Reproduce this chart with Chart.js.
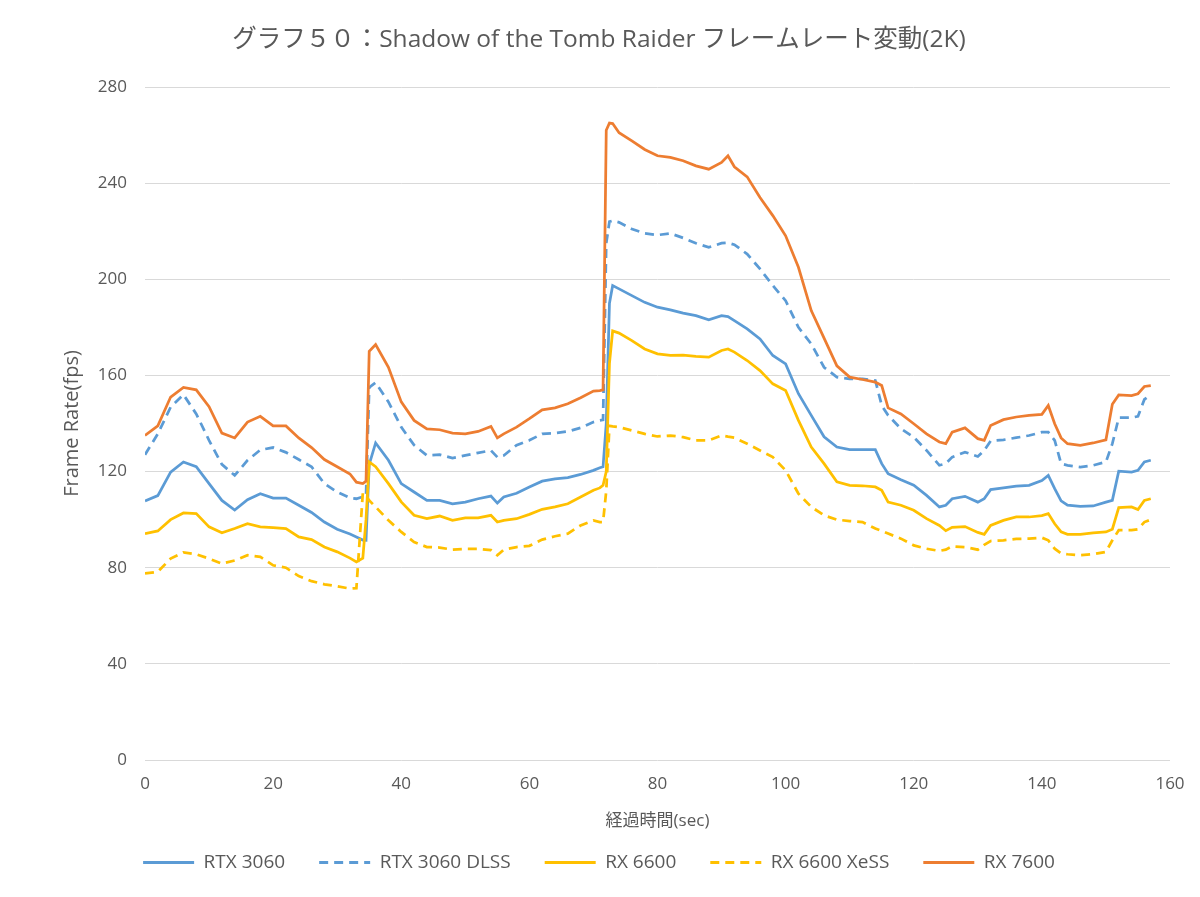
<!DOCTYPE html>
<html lang="ja">
<head>
<meta charset="utf-8">
<title>Shadow of the Tomb Raider フレームレート変動</title>
<script src="https://cdn.jsdelivr.net/npm/chart.js@4.4.1/dist/chart.umd.min.js"></script>
<style>
  html, body { margin: 0; padding: 0; background: #fff; }
  #wrap { width: 1200px; height: 897px; }
</style>
</head>
<body>
<div id="wrap"><canvas id="chart" width="1200" height="897"></canvas></div>
<script>
// elapsed time (sec)
const timeSec = [
  0,2,4,6,8,10,12,14,16,18,20,22,24,26,28,30,32,
  33,34,34.5,35,36,
  38,40,42,44,46,48,50,52,54,55,56,58,60,62,64,66,68,70,
  71,71.5,72,72.5,73,74,
  76,78,80,82,84,86,88,90,91,
  92,94,96,98,100,102,104,106,108,110,112,114,115,
  116,118,120,122,124,125,126,128,130,131,
  132,134,136,138,140,141,142,143,144,146,148,150,151,152,154,155,156,157
];

const rtx3060 = [
  107.8,110,119.8,124,122,115,108,104,108.3,110.8,109,109,106,103,99,96,94,
  92.8,91.5,91.4,123,131.9,
  124.7,115,111.5,108,108,106.6,107.3,108.7,109.8,106.9,109.4,111,113.6,116,117,117.5,118.8,120.5,
  121.6,122,140,190,197.4,196,
  193.2,190.4,188.4,187.3,185.9,184.9,183.1,184.9,184.5,
  182.8,179.4,175.2,168.3,164.8,152.4,143.4,134.5,130.2,129.1,129.1,129.1,123.3,
  119.1,116.6,114.3,110.1,105.3,106,108.7,109.7,107.3,108.7,
  112.5,113.2,113.9,114.3,116.3,118.4,112.9,107.8,106,105.5,105.7,107.3,108,120.2,119.8,120.5,124,124.7
];

const rtx3060Dlss = [
  127,135.7,146.8,152,144,133,123,118.4,124.7,129,130,128,125,122,115,111.5,109,
  108.7,109.5,110,155,157,
  149,138.5,131,126.7,127,125.6,126.7,127.8,128.8,126,126.7,131,133,135.7,136,136.7,138.2,140.6,
  141.3,141.5,215,224,224.4,223.7,
  220.9,219.1,218.4,219.1,217.2,215,213.3,215,215.2,
  214.4,210.5,204.3,197.4,191.1,180,173.1,163.4,159.3,158.6,158.6,157.9,147.5,
  143.4,137.8,134.3,128.8,122.6,123.3,126,128.1,126.3,128.8,
  132.7,133.2,134.1,135,136.4,136.4,133,123.3,122.6,121.9,122.6,124,131.6,142.4,142.4,143,150,152
];

const rx6600 = [
  94.2,95.3,100,102.8,102.5,97,94.5,96.3,98.3,97,96.7,96.3,92.8,91.7,88.6,86.6,84,
  82.4,84,100,124,122,
  115,107.4,101.8,100.4,101.5,99.7,100.7,100.7,101.8,99,99.7,100.4,102.2,104.3,105.3,106.6,109.4,112.2,
  113.2,114.3,120,165,178.5,177.6,
  174.5,171,169,168.3,168.4,167.9,167.6,170.4,171,
  169.7,166.2,162,156.5,153.7,141.3,130.2,123.3,115.7,114.3,114.1,113.6,112.2,
  107.3,106,103.9,100.4,97.6,95.4,96.8,97.1,94.7,93.9,
  97.6,99.7,101.1,101.1,101.7,102.5,98.3,94.9,93.9,93.9,94.5,94.9,96,105,105.3,104.2,108,108.7
];

const rx6600Xess = [
  77.6,78.3,83.8,86.4,85.6,83.8,81.7,83,85.2,84.5,81,80,76.5,74.4,73.1,72.3,71.3,
  71.5,111,110,108,105.3,
  99.7,94.9,90.7,88.6,88.4,87.5,87.8,87.8,87.3,85.2,87.5,88.6,89.1,91.7,93.1,94.2,97.6,99.7,
  99,99,112,139,138.8,138.5,
  137.1,135.7,134.6,135,134.3,133,133,135,134.5,
  134.1,131.6,128.8,126,120.5,110.8,105.3,101.8,100,99.4,99,96.3,95.3,
  94.2,92.1,89.3,87.9,87,87.5,88.9,88.6,87.5,89.5,
  91.1,91.4,92,92.1,92.5,91.4,87.9,86,85.6,85.2,85.6,86.6,91.4,95.6,95.6,96,99,100
];

const rx7600 = [
  135,139,151,155,154,147,136,134,140.6,143,139,139,134,130,125,122,119,
  115.6,115,116,170,172.8,
  163.4,149,141.3,137.8,137.4,136,135.7,136.7,138.8,134,135.7,138.5,142,145.7,146.5,148.2,150.7,153.5,
  153.7,154,262,265,264.8,261,
  257.6,254,251.4,250.7,249.3,247.2,245.8,248.6,251.4,
  246.8,242.6,234,226.5,218.1,205,187,175.5,164,159.3,158.3,157.2,155.8,
  146.5,144,139.9,135.7,132.3,131.6,136.4,138.2,133.7,133,
  139.2,141.6,142.7,143.4,143.8,147.5,139.9,134,131.6,130.9,131.9,133.2,148,151.9,151.6,152.4,155.4,155.8
];

const seriesNames = ['RTX 3060', 'RTX 3060 DLSS', 'RX 6600', 'RX 6600 XeSS', 'RX 7600'];
const seriesValues = [rtx3060, rtx3060Dlss, rx6600, rx6600Xess, rx7600];
const seriesColors = ['#5B9BD5', '#5B9BD5', '#FFC000', '#FFC000', '#ED7D31'];
const seriesDashed = [false, true, false, true, false];

const FONT = '"Open Sans", "Noto Sans CJK JP", sans-serif';
const TEXT = '#595959';

const datasets = seriesNames.map((name, i) => ({
  label: name,
  data: seriesValues[i].map((v, j) => ({ x: timeSec[j], y: v })),
  borderColor: seriesColors[i],
  backgroundColor: seriesColors[i],
  borderWidth: 2.75,
  borderDash: seriesDashed[i] ? [9, 6] : [],
  pointRadius: 0,
  tension: 0,
  fill: false,
  order: seriesNames.length - i, // later series drawn on top, like the original
}));

new Chart(document.getElementById('chart'), {
  type: 'line',
  data: { datasets },
  options: {
    responsive: false,
    animation: false,
    layout: { padding: { left: 0, right: 2, top: 0, bottom: 15 } },
    plugins: {
      title: {
        display: true,
        text: 'グラフ５０：Shadow of the Tomb Raider フレームレート変動(2K)',
        color: TEXT,
        font: { family: FONT, size: 24.5, weight: 'normal' },
        padding: { top: 25.3, bottom: 32.3 },
      },
      legend: {
        position: 'bottom',
        labels: {
          usePointStyle: true,
          pointStyle: 'line',
          pointStyleWidth: 51,
          color: TEXT,
          font: { family: FONT, size: 19 },
          padding: 34,
          sort: (a, b) => a.datasetIndex - b.datasetIndex,
          generateLabels: (chart) => {
            const items = Chart.defaults.plugins.legend.labels.generateLabels(chart);
            items.forEach((item) => {
              item.lineDash = chart.data.datasets[item.datasetIndex].borderDash;
              item.lineWidth = 3;
            });
            return items;
          },
        },
      },
      tooltip: { enabled: false },
    },
    scales: {
      x: {
        type: 'linear',
        min: 0,
        max: 160,
        ticks: { stepSize: 20, color: TEXT, font: { family: FONT, size: 17 }, padding: 14 },
        grid: { display: false, drawTicks: false },
        border: { display: false },
        title: {
          display: true,
          text: '経過時間(sec)',
          color: TEXT,
          font: { family: FONT, size: 17 },
          padding: { top: 0, bottom: -12.2 },
        },
        afterFit: (scale) => { scale.height = 59; },
      },
      y: {
        min: 0,
        max: 280,
        ticks: { stepSize: 40, color: TEXT, font: { family: FONT, size: 17 }, padding: 18 },
        grid: { color: '#D9D9D9', lineWidth: 1, drawTicks: false },
        border: { display: false },
        title: {
          display: true,
          text: 'Frame Rate(fps)',
          color: TEXT,
          font: { family: FONT, size: 20 },
          padding: { top: 60, bottom: 0 },
        },
        afterFit: (scale) => { scale.width = 145; },
      },
      // empty right-hand margin so title and legend centre on the whole page
      yRight: {
        position: 'right',
        min: 0,
        max: 280,
        ticks: { display: false },
        grid: { display: false, drawTicks: false },
        border: { display: false },
        afterFit: (scale) => { scale.width = 28; },
      },
    },
  },
});
</script>
</body>
</html>
